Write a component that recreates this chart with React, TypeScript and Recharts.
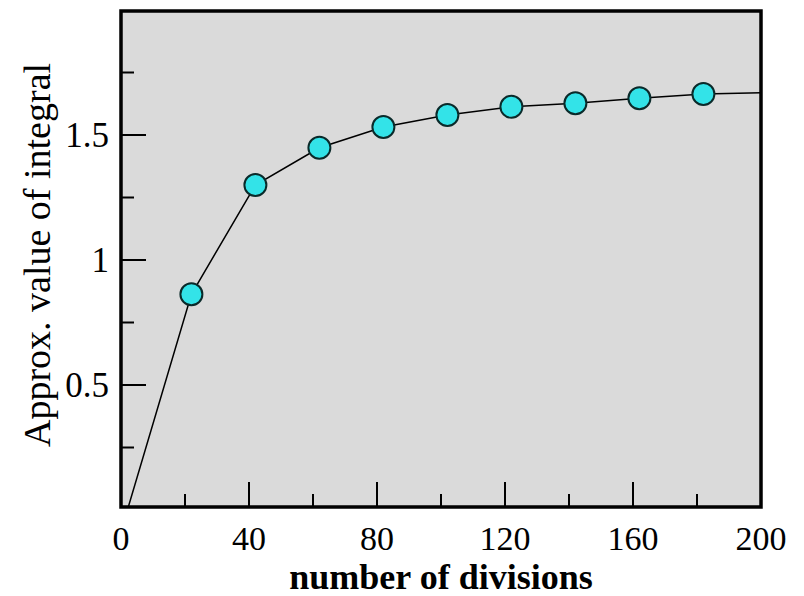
import React from "react";
import { LineChart, Line, XAxis, YAxis, ReferenceArea, Label } from "recharts";

const divisions = [2, 22, 42, 62, 82, 102, 122, 142, 162, 182, 200];
const values = [0, 0.863, 1.3, 1.449, 1.532, 1.58, 1.613, 1.627, 1.647, 1.664, 1.669];
const markerFlags = [false, true, true, true, true, true, true, true, true, true, false];

const xTicks = [0, 20, 40, 60, 80, 100, 120, 140, 160, 180, 200];
const xMajor = [0, 40, 80, 120, 160, 200];
const yTicks = [0.25, 0.5, 0.75, 1, 1.25, 1.5, 1.75];
const yMajor = [0.5, 1, 1.5];
const yLabels: Record<string, string> = { "0.5": "0.5", "1": "1", "1.5": "1.5" };

const X_DOMAIN: [number, number] = [0, 200];
const Y_DOMAIN: [number, number] = [0.012, 1.996];

const data = divisions.map((d, i) => ({ n: d, v: values[i], m: markerFlags[i] }));

const FONT = '"Liberation Serif", "Times New Roman", serif';
const MAJOR = 25;
const MINOR = 13;

const isMajorX = (v: number) => xMajor.includes(v);
const isMajorY = (v: number) => yMajor.some((m) => Math.abs(m - v) < 1e-9);

const BottomTick = (props: any) => {
  const { x, y, payload } = props;
  const major = isMajorX(payload.value);
  return (
    <g>
      <line x1={x} y1={y} x2={x} y2={y - (major ? MAJOR : MINOR)} stroke="#000" strokeWidth={2} />
      {major && (
        <text x={x} y={y + 43} textAnchor="middle" fontFamily={FONT} fontSize={34} fill="#000">
          {payload.value}
        </text>
      )}
    </g>
  );
};

const TopTick = (props: any) => {
  const { x, y, payload } = props;
  const major = isMajorX(payload.value);
  return <line x1={x} y1={y} x2={x} y2={y + (major ? MAJOR : MINOR)} stroke="#000" strokeWidth={2} />;
};

const LeftTick = (props: any) => {
  const { x, y, payload } = props;
  const major = isMajorY(payload.value);
  return (
    <g>
      <line x1={x} y1={y} x2={x + (major ? MAJOR : MINOR)} y2={y} stroke="#000" strokeWidth={2} />
      {major && (
        <text x={x - 12} y={y + 12} textAnchor="end" fontFamily={FONT} fontSize={35} fill="#000">
          {yLabels[String(payload.value)]}
        </text>
      )}
    </g>
  );
};

const RightTick = (props: any) => {
  const { x, y, payload } = props;
  const major = isMajorY(payload.value);
  return <line x1={x} y1={y} x2={x - (major ? MAJOR : MINOR)} y2={y} stroke="#000" strokeWidth={2} />;
};

const renderDot = (p: any) => {
  if (!p.payload || !p.payload.m) return <g key={`d${p.index}`} />;
  return <circle key={`d${p.index}`} cx={p.cx} cy={p.cy} r={11} fill="#33e3e8" stroke="#0a2a2a" strokeWidth={2} />;
};

export default function App() {
  return (
    <div style={{ position: "absolute", left: 0, top: 0, background: "#fff" }}>
      <LineChart width={804} height={596} data={data} margin={{ top: 11, right: 43, bottom: 0, left: 0 }}>
        <ReferenceArea
          x1={X_DOMAIN[0]}
          x2={X_DOMAIN[1]}
          y1={Y_DOMAIN[0]}
          y2={Y_DOMAIN[1]}
          fill="#dadada"
          fillOpacity={1}
          stroke="#000"
          strokeWidth={3.5}
          ifOverflow="visible"
        />
        <XAxis
          dataKey="n"
          type="number"
          domain={X_DOMAIN}
          ticks={xTicks}
          height={89}
          axisLine={false}
          tickLine={false}
          tickSize={0}
          tickMargin={0}
          tick={<BottomTick />}
          interval={0}
        >
          <Label
            content={(p: any) => {
              const vb = p.viewBox;
              return (
                <text
                  x={vb.x + vb.width / 2}
                  y={vb.y + 82}
                  textAnchor="middle"
                  fontFamily={FONT}
                  fontWeight="bold"
                  fontSize={36}
                  fill="#000"
                >
                  number of divisions
                </text>
              );
            }}
          />
        </XAxis>
        <XAxis
          xAxisId="top"
          orientation="top"
          dataKey="n"
          type="number"
          domain={X_DOMAIN}
          ticks={xTicks}
          height={0}
          axisLine={false}
          tickLine={false}
          tickSize={0}
          tickMargin={0}
          tick={<TopTick />}
          interval={0}
        />
        <YAxis
          type="number"
          domain={Y_DOMAIN}
          ticks={yTicks}
          width={121}
          allowDataOverflow
          axisLine={false}
          tickLine={false}
          tickSize={0}
          tickMargin={0}
          tick={<LeftTick />}
          interval={0}
        >
          <Label
            content={(p: any) => {
              const vb = p.viewBox;
              const cx = 50;
              const cy = vb.y + vb.height / 2 - 4;
              return (
                <text
                  x={cx}
                  y={cy}
                  transform={`rotate(-90, ${cx}, ${cy})`}
                  textAnchor="middle"
                  fontFamily={FONT}
                  fontSize={38}
                  fill="#000"
                >
                  Approx. value of integral
                </text>
              );
            }}
          />
        </YAxis>
        <YAxis
          yAxisId="right"
          orientation="right"
          type="number"
          domain={Y_DOMAIN}
          ticks={yTicks}
          width={0}
          allowDataOverflow
          axisLine={false}
          tickLine={false}
          tickSize={0}
          tickMargin={0}
          tick={<RightTick />}
          interval={0}
        />
        <Line
          type="linear"
          dataKey="v"
          stroke="#000"
          strokeWidth={1.5}
          dot={renderDot}
          activeDot={false}
          isAnimationActive={false}
        />
      </LineChart>
    </div>
  );
}
